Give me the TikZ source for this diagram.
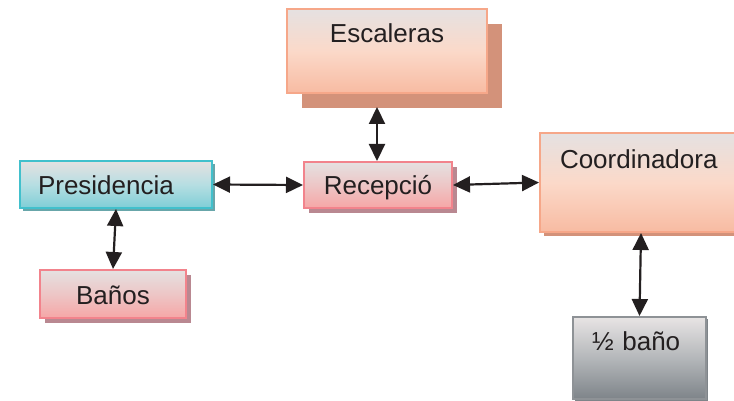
\documentclass[tikz,border=0pt]{standalone}
\usepackage{fontspec}
\setmainfont{Liberation Sans}
\usetikzlibrary{arrows.meta,shadows}

\definecolor{ink}{HTML}{231F20}
\definecolor{paletop}{HTML}{E5E1E1}
\definecolor{salmonline}{HTML}{F6A789}
\definecolor{salmonmid}{HTML}{FBD9C9}
\definecolor{salmonbot}{HTML}{F8BBA2}
\definecolor{salmonshadow}{HTML}{D3927A}
\definecolor{tealline}{HTML}{42C0CC}
\definecolor{tealmid}{HTML}{B6DEE2}
\definecolor{tealbot}{HTML}{7FCED6}
\definecolor{tealshadow}{HTML}{68A6AA}
\definecolor{pinkline}{HTML}{F2838C}
\definecolor{pinkmid}{HTML}{EDC6C6}
\definecolor{pinkbot}{HTML}{F6A6A6}
\definecolor{pinkshadow}{HTML}{B98891}
\definecolor{greyline}{HTML}{8E9296}
\definecolor{greymid}{HTML}{B4B7BA}
\definecolor{greybot}{HTML}{7E8489}

\begin{document}
\begin{tikzpicture}[x=1pt, y=-1pt,
    box/.style={draw, line width=2pt, inner xsep=0pt, inner ysep=0pt,
      text=ink, font=\fontsize{26}{31}\selectfont},
    salmonbox/.style={box, draw=salmonline, top color=paletop,
      bottom color=salmonbot, middle color=salmonmid},
    tealbox/.style={box, draw=tealline, top color=paletop,
      bottom color=tealbot, middle color=tealmid},
    pinkbox/.style={box, draw=pinkline, top color=paletop,
      bottom color=pinkbot, middle color=pinkmid},
    greybox/.style={box, draw=greyline, top color=paletop!90!white,
      bottom color=greybot, middle color=greymid},
    shade/.style 2 args={drop shadow={shadow xshift=#1pt, shadow yshift=-#1pt,
      opacity=1, fill=#2}},
    link/.style={{Triangle[length=17pt,width=16pt]}-{Triangle[length=17pt,width=16pt]},
      line width=2.2pt, draw=ink}]
    \useasboundingbox (0,0) rectangle (734,401);
    \clip (0,0) rectangle (734,401);

    \node (esc) [salmonbox, shade={15}{salmonshadow}, text width=200pt, align=center,
      text height=34pt, text depth=50pt] at (387,51) {Escaleras};
    \node (pres) [tealbox, shade={3}{tealshadow}, text width=156pt, inner xsep=18pt,
      align=left, text height=34pt, text depth=13pt] at (116,184.5) {Presidencia};
    \node (ban) [pinkbox, shade={5}{pinkshadow}, text width=146pt, align=center,
      text height=34pt, text depth=14pt] at (113,294) {Baños};
    \node (rec) [pinkbox, shade={5}{pinkshadow}, text width=148pt, align=center,
      text height=32pt, text depth=14pt] at (378,185) {Recepció};
    \node (coord) [salmonbox, shade={4}{salmonshadow}, text width=162pt, inner xsep=20pt,
      align=left, text height=35pt, text depth=64pt] at (641,182.5) {Coordinadora};
    \node (mbano) [greybox, shade={2}{greybot}, text width=95pt, inner xsep=19pt,
      align=left, text height=33pt, text depth=49pt] at (639.5,358) {½ baño};

    \coordinate (escfoot) at (377,107);

    \draw[link] (escfoot) -- (escfoot |- rec.north);
    \draw[link] (pres.east) -- (rec.west);
    \draw[link] (pres.south) -- (ban.north);
    \draw[link] (rec.east) -- (coord.west);
    \draw[link] (coord.south) -- (mbano.north);
\end{tikzpicture}
\end{document}
